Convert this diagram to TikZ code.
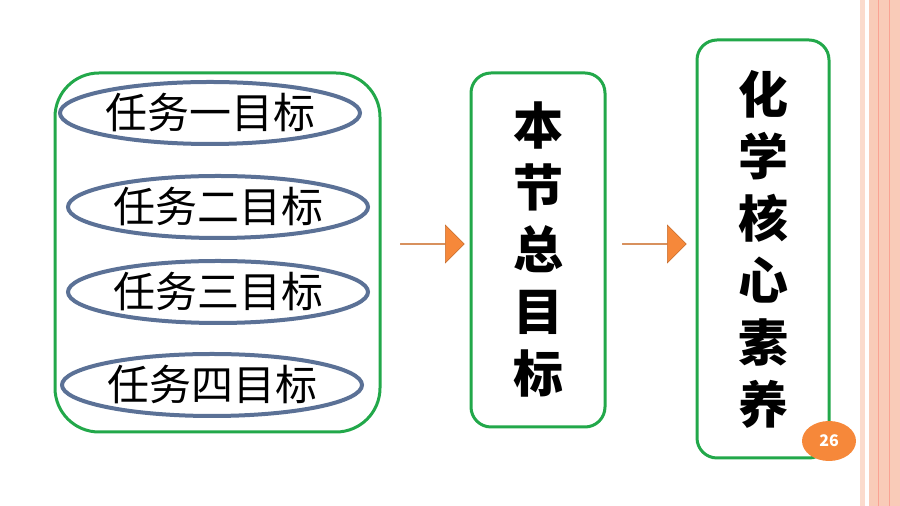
\documentclass[tikz,border=0pt]{standalone}
\usepackage{fontspec}
\setmainfont{Noto Sans CJK SC}
\usetikzlibrary{shapes.geometric,shapes.arrows}
\definecolor{boxgreen}{HTML}{22A84A}
\definecolor{ringblue}{HTML}{5B7196}
\definecolor{arrorange}{HTML}{F6883A}
\definecolor{stripe}{HTML}{F9CBB8}
\tikzset{
  goal/.style={ellipse, draw=ringblue, line width=2pt, minimum width=150pt,
    minimum height=31pt, inner sep=0pt, font=\fontsize{21}{21}\selectfont},
  frame/.style={draw=boxgreen, line width=1.5pt},
  tall/.style={frame, rounded corners=10pt, font=\fontsize{25}{31}\selectfont\bfseries,
    align=center, inner sep=0pt},
  flow/.style={single arrow, fill=arrorange, draw=arrorange!80!black, line width=.3pt,
    minimum width=19pt, single arrow head extend=8.5pt, minimum height=32pt,
    inner sep=0pt, anchor=west},
}
\begin{document}
\begin{tikzpicture}[x=0.5pt, y=-0.5pt]
  \useasboundingbox (0,0) rectangle (900,506);
  % right margin stripes
  \fill[stripe!70] (860,0) rectangle (865,506);
  \fill[stripe] (869,0) rectangle (900,506);
  \draw[stripe!80!red, line width=.4pt] (878,0) -- (878,506) (889,0) -- (889,506);

  % left group
  \draw[frame, rounded corners=22pt] (55,73) rectangle (380,432);
  \node[goal] (g1) at (210,113) {任务一目标};
  \node[goal] (g2) at (218,207) {任务二目标};
  \node[goal] (g3) at (218,292) {任务三目标};
  \node[goal] (g4) at (212,385) {任务四目标};

  % tall boxes
  \node[tall, minimum width=67pt, minimum height=177pt] (aim) at (538,250)
    {本\\节\\总\\目\\标};
  \node[tall, minimum width=66pt, minimum height=209pt] (core) at (763,249)
    {化\\学\\核\\心\\素\\养};

  % arrows
  \node[flow] (a1) at (400,244) {};
  \node[flow] (a2) at (622,244) {};

  % page number
  \node[ellipse, fill=arrorange, minimum width=27pt, minimum height=20pt, inner sep=0pt,
    text=white, font=\footnotesize\bfseries] (pg) at (829,441) {26};
\end{tikzpicture}
\end{document}
